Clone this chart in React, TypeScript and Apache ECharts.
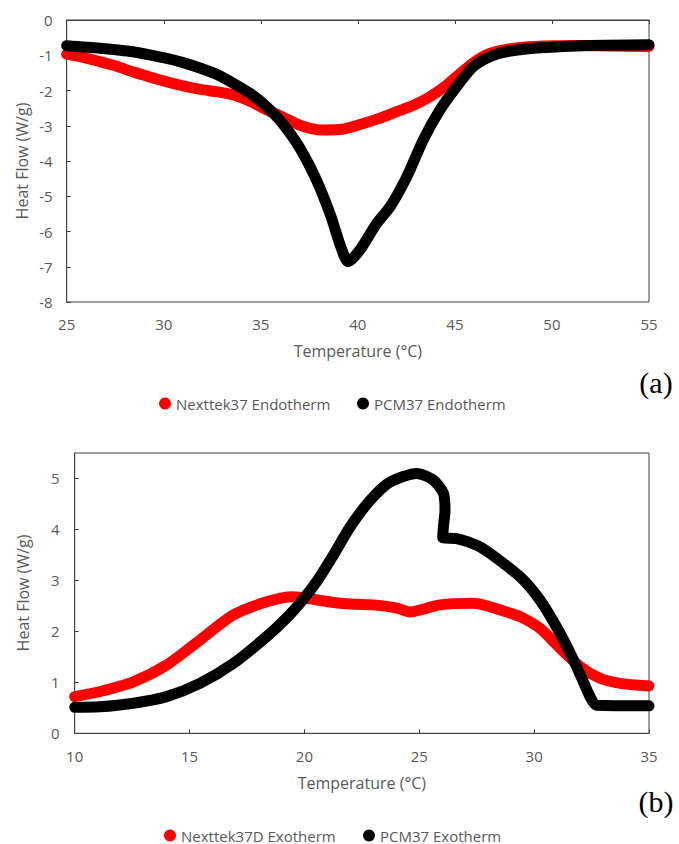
import React, { useEffect, useRef } from "react";
import * as echarts from "echarts";

// (a) Endotherm: [temperature °C, heat flow W/g]
const nexttek37Endotherm: [number, number][] = [
  [25, -0.97], [26, -1.08], [26.7, -1.18], [27.5, -1.3], [28.4, -1.47], [29.3, -1.62],
  [30.15, -1.75], [31, -1.87], [31.9, -1.97], [32.8, -2.04], [33.6, -2.13], [34.5, -2.32],
  [35.3, -2.55], [36.0, -2.72], [37.0, -2.98], [37.6, -3.08], [38.2, -3.12], [39.2, -3.1],
  [40.2, -2.95], [41.1, -2.79], [42.0, -2.6], [42.9, -2.41], [43.7, -2.18], [44.6, -1.84],
  [45.2, -1.55], [45.7, -1.32], [46.2, -1.12], [46.8, -0.95], [47.6, -0.84], [48.5, -0.77],
  [50, -0.73], [51.5, -0.72], [53, -0.74], [55, -0.75],
];
const pcm37Endotherm: [number, number][] = [
  [25, -0.73], [26.7, -0.8], [28.4, -0.9], [30.15, -1.09], [31, -1.21], [31.9, -1.37],
  [32.8, -1.56], [33.6, -1.8], [34.5, -2.1], [35.3, -2.46], [36.1, -2.92], [37.0, -3.62],
  [37.9, -4.58], [38.6, -5.55], [39.1, -6.4], [39.5, -6.86], [40.11, -6.52],
  [40.97, -5.77], [41.66, -5.3], [42.52, -4.45], [43.37, -3.4], [44.23, -2.55],
  [45.09, -1.89], [45.95, -1.32], [46.8, -1.04], [47.65, -0.9], [49.4, -0.79],
  [51.95, -0.72], [55, -0.7],
];

// (b) Exotherm: [temperature °C, heat flow W/g]
const nexttek37DExotherm: [number, number][] = [
  [10, 0.72], [11.1, 0.82], [12.55, 1.01], [14.0, 1.34], [15.45, 1.83], [16.9, 2.32],
  [18.36, 2.58], [19.5, 2.68], [20.5, 2.62], [21.55, 2.55], [23.0, 2.52], [24.0, 2.46],
  [24.6, 2.38], [25.9, 2.52], [27.35, 2.55], [28.8, 2.38], [29.39, 2.29], [30.26, 2.06],
  [31.13, 1.67], [32.0, 1.31], [32.87, 1.08], [33.74, 0.98], [35, 0.93],
];
const pcm37Exotherm: [number, number][] = [
  [10, 0.51], [11.1, 0.52], [12.55, 0.59], [14.0, 0.72], [15.45, 0.98], [16.9, 1.37],
  [18.36, 1.9], [19.3, 2.3], [20.0, 2.66], [20.6, 3.02], [21.2, 3.45], [21.99, 4.05],
  [22.86, 4.57], [23.73, 4.93], [24.89, 5.1], [25.61, 4.97], [26.05, 4.71], [26.12, 4.38],
  [26.05, 4.05], [26.02, 3.84], [26.63, 3.82], [27.5, 3.69], [28.08, 3.53], [29.39, 3.07],
  [30.26, 2.61], [31.13, 1.96], [31.85, 1.31], [32.43, 0.72], [32.72, 0.55], [35, 0.54],
];

const seriesNames = [
  "Nexttek37 Endotherm",
  "PCM37 Endotherm",
  "Nexttek37D Exotherm",
  "PCM37 Exotherm",
];
const xTitle = "Temperature (°C)";
const yTitle = "Heat Flow (W/g)";
const panelLabels = ["(a)", "(b)"];

const RED = "#ff0000";
const BLACK = "#000000";
const TXT = "#595959";
const AX = "#404040";
const FONT = "Open Sans";

export default function App() {
  const ref = useRef<HTMLDivElement>(null);
  useEffect(() => {
    document.body.style.margin = "0";
    if (!ref.current) return;
    const chart = echarts.init(ref.current, undefined, { renderer: "svg" });
    const label = { color: TXT, fontFamily: FONT, fontSize: 15 };
    const legendText = { color: TXT, fontFamily: FONT, fontSize: 15 };
    const nameStyle = { color: TXT, fontFamily: FONT, fontSize: 16 };
    const line = (name: string, data: [number, number][], color: string, xi: number, yi: number) => ({
      name,
      type: "line",
      data,
      xAxisIndex: xi,
      yAxisIndex: yi,
      symbol: "none",
      smooth: 0.25,
      color,
      lineStyle: { color, width: 11, cap: "round", join: "round" },
      itemStyle: { color },
    });
    const legendCommon = { icon: "circle", itemWidth: 12, itemHeight: 12, itemGap: 5, padding: 0, textStyle: legendText };
    const yTitleText = (x: number, y: number) => ({
      type: "text", x, y, rotation: Math.PI / 2,
      style: { text: yTitle, fill: TXT, font: `16px '${FONT}'`, align: "center", verticalAlign: "middle" },
    });
    chart.setOption({
      animation: false,
      backgroundColor: "#ffffff",
      grid: [
        { left: 66.7, top: 20, width: 582.3, height: 282, show: true, borderColor: AX, borderWidth: 1 },
        { left: 74.7, top: 453, width: 574.3, height: 280.3, show: true, borderColor: AX, borderWidth: 1 },
      ],
      xAxis: [
        {
          gridIndex: 0, type: "value", position: "bottom", min: 25, max: 55, interval: 5,
          axisLine: { show: true, lineStyle: { color: AX } }, axisTick: { show: false },
          splitLine: { show: false }, axisLabel: { ...label, margin: 14 },
          name: xTitle, nameLocation: "middle", nameGap: 41, nameTextStyle: nameStyle,
        },
        {
          gridIndex: 0, type: "value", position: "top", min: 25, max: 55, interval: 5,
          axisLine: { show: true, lineStyle: { color: AX } },
          axisTick: { show: true, inside: true, length: 4, lineStyle: { color: AX } },
          splitLine: { show: false }, axisLabel: { show: false },
        },
        {
          gridIndex: 1, type: "value", position: "bottom", min: 10, max: 35, interval: 5,
          axisLine: { show: true, lineStyle: { color: AX } },
          axisTick: { show: true, inside: true, length: 4, lineStyle: { color: AX } },
          splitLine: { show: false }, axisLabel: { ...label, margin: 15 },
          name: xTitle, nameLocation: "middle", nameGap: 42, nameTextStyle: nameStyle,
        },
      ],
      yAxis: [
        {
          gridIndex: 0, type: "value", min: -8, max: 0, interval: 1,
          axisLine: { show: true, lineStyle: { color: AX } },
          axisTick: { show: true, inside: true, length: 4, lineStyle: { color: AX } },
          splitLine: { show: false }, axisLabel: { ...label, margin: 14 },
        },
        {
          gridIndex: 1, type: "value", min: 0, max: 5.5, interval: 1,
          axisLine: { show: true, lineStyle: { color: AX } },
          axisTick: { show: true, inside: true, length: 4, lineStyle: { color: AX } },
          splitLine: { show: false }, axisLabel: { ...label, margin: 15, showMaxLabel: false },
        },
      ],
      legend: [
        { ...legendCommon, data: [seriesNames[0]], left: 159, top: 396 },
        { ...legendCommon, data: [seriesNames[1]], left: 357, top: 396 },
        { ...legendCommon, data: [seriesNames[2]], left: 164, top: 828 },
        { ...legendCommon, data: [seriesNames[3]], left: 363, top: 828 },
      ],
      graphic: [
        yTitleText(22, 161),
        yTitleText(23, 593),
        { type: "text", x: 656, y: 382, style: { text: panelLabels[0], fill: "#000", font: "30px 'Liberation Serif'", align: "center", verticalAlign: "middle" } },
        { type: "text", x: 656, y: 801, style: { text: panelLabels[1], fill: "#000", font: "30px 'Liberation Serif'", align: "center", verticalAlign: "middle" } },
      ],
      series: [
        line(seriesNames[0], nexttek37Endotherm, RED, 0, 0),
        line(seriesNames[1], pcm37Endotherm, BLACK, 0, 0),
        line(seriesNames[2], nexttek37DExotherm, RED, 2, 1),
        line(seriesNames[3], pcm37Exotherm, BLACK, 2, 1),
      ],
    });
    return () => chart.dispose();
  }, []);
  return <div ref={ref} style={{ width: 679, height: 844 }} />;
}
